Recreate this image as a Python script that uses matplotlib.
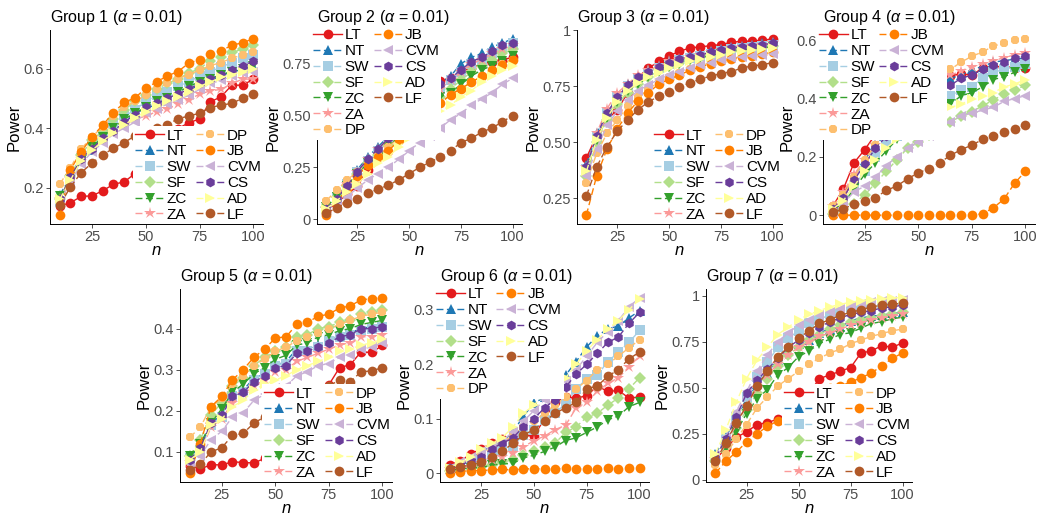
import numpy as np
import matplotlib
matplotlib.use("Agg")
import matplotlib.pyplot as plt
from matplotlib.lines import Line2D

plt.rcParams["font.family"] = ["Liberation Sans", "DejaVu Sans"]
plt.rcParams["mathtext.fontset"] = "custom"
plt.rcParams["mathtext.rm"] = "Liberation Sans"
plt.rcParams["mathtext.it"] = "Liberation Sans:italic"

n = [10, 15, 20, 25, 30, 35, 40, 45, 50, 55, 60, 65, 70, 75, 80, 85, 90, 95, 100]

tests = ["LT", "NT", "SW", "SF", "ZC", "ZA", "DP", "JB", "CVM", "CS", "AD", "LF"]
colors = ["#E31A1C", "#1F78B4", "#A6CEE3", "#B2DF8A", "#33A02C", "#FB9A99",
          "#FDBF6F", "#FF7F00", "#CAB2D6", "#6A3D9A", "#FFFF99", "#B15928"]
markers = ["o", "^", "s", "D", "v", "*", "8", "o", "<", "h", ">", "o"]

# rows follow the order of `tests`
g1 = [
    [0.138, 0.149, 0.170, 0.172, 0.189, 0.211, 0.219, 0.247, 0.27, 0.30, 0.35, 0.398, 0.418, 0.430, 0.488, 0.505, 0.544, 0.544, 0.564],
    [0.175, 0.235, 0.295, 0.325, 0.365, 0.39, 0.42, 0.45, 0.465, 0.48, 0.50, 0.51, 0.525, 0.545, 0.56, 0.575, 0.59, 0.595, 0.61],
    [0.15, 0.23, 0.30, 0.34, 0.38, 0.41, 0.44, 0.46, 0.49, 0.51, 0.52, 0.54, 0.555, 0.575, 0.59, 0.605, 0.62, 0.635, 0.645],
    [0.16, 0.24, 0.31, 0.36, 0.39, 0.43, 0.46, 0.49, 0.51, 0.53, 0.55, 0.565, 0.585, 0.60, 0.625, 0.64, 0.655, 0.665, 0.68],
    [0.17, 0.23, 0.29, 0.335, 0.37, 0.40, 0.43, 0.45, 0.47, 0.49, 0.50, 0.52, 0.54, 0.555, 0.565, 0.58, 0.59, 0.60, 0.61],
    [0.16, 0.23, 0.29, 0.33, 0.36, 0.385, 0.41, 0.43, 0.44, 0.455, 0.465, 0.48, 0.495, 0.514, 0.525, 0.53, 0.55, 0.564, 0.565],
    [0.211, 0.267, 0.33, 0.37, 0.405, 0.44, 0.47, 0.49, 0.51, 0.53, 0.55, 0.565, 0.58, 0.595, 0.61, 0.62, 0.635, 0.645, 0.655],
    [0.107, 0.26, 0.32, 0.37, 0.41, 0.452, 0.486, 0.502, 0.533, 0.555, 0.575, 0.59, 0.618, 0.63, 0.648, 0.66, 0.678, 0.687, 0.70],
    [0.15, 0.22, 0.28, 0.32, 0.35, 0.38, 0.40, 0.42, 0.45, 0.465, 0.48, 0.495, 0.51, 0.53, 0.55, 0.56, 0.575, 0.585, 0.59],
    [0.16, 0.235, 0.295, 0.33, 0.365, 0.39, 0.42, 0.445, 0.47, 0.485, 0.50, 0.515, 0.53, 0.55, 0.565, 0.58, 0.595, 0.61, 0.625],
    [0.16, 0.225, 0.29, 0.325, 0.355, 0.385, 0.41, 0.435, 0.455, 0.475, 0.49, 0.505, 0.52, 0.54, 0.555, 0.57, 0.58, 0.59, 0.60],
    [0.14, 0.202, 0.25, 0.282, 0.31, 0.332, 0.351, 0.374, 0.39, 0.40, 0.41, 0.432, 0.44, 0.45, 0.469, 0.477, 0.483, 0.50, 0.514],
]

g2 = [
    [0.04, 0.08, 0.12, 0.16, 0.24, 0.33, 0.38, 0.45, 0.53, 0.58, 0.63, 0.665, 0.68, 0.71, 0.73, 0.75, 0.76, 0.77, 0.78],
    [0.05, 0.10, 0.17, 0.24, 0.30, 0.35, 0.40, 0.47, 0.54, 0.58, 0.63, 0.66, 0.69, 0.75, 0.78, 0.80, 0.83, 0.85, 0.87],
    [0.05, 0.11, 0.17, 0.23, 0.28, 0.33, 0.38, 0.43, 0.50, 0.55, 0.59, 0.63, 0.67, 0.71, 0.75, 0.77, 0.80, 0.83, 0.85],
    [0.06, 0.11, 0.16, 0.22, 0.27, 0.31, 0.36, 0.41, 0.46, 0.51, 0.56, 0.59, 0.63, 0.67, 0.71, 0.74, 0.77, 0.80, 0.82],
    [0.06, 0.11, 0.16, 0.22, 0.27, 0.30, 0.35, 0.40, 0.45, 0.51, 0.56, 0.59, 0.61, 0.65, 0.69, 0.72, 0.74, 0.765, 0.785],
    [0.05, 0.10, 0.17, 0.23, 0.29, 0.34, 0.39, 0.44, 0.50, 0.55, 0.60, 0.63, 0.67, 0.71, 0.75, 0.77, 0.80, 0.82, 0.84],
    [0.09, 0.14, 0.19, 0.23, 0.27, 0.31, 0.35, 0.39, 0.43, 0.47, 0.52, 0.56, 0.60, 0.63, 0.66, 0.69, 0.72, 0.75, 0.77],
    [0.02, 0.08, 0.15, 0.21, 0.26, 0.30, 0.33, 0.38, 0.43, 0.48, 0.52, 0.56, 0.60, 0.63, 0.66, 0.69, 0.72, 0.745, 0.77],
    [0.04, 0.08, 0.11, 0.15, 0.19, 0.22, 0.25, 0.29, 0.33, 0.37, 0.40, 0.44, 0.48, 0.51, 0.55, 0.58, 0.61, 0.65, 0.68],
    [0.05, 0.10, 0.16, 0.23, 0.29, 0.34, 0.39, 0.45, 0.52, 0.56, 0.61, 0.65, 0.68, 0.72, 0.76, 0.78, 0.81, 0.84, 0.85],
    [0.05, 0.09, 0.13, 0.17, 0.22, 0.27, 0.30, 0.35, 0.39, 0.43, 0.47, 0.52, 0.55, 0.59, 0.62, 0.66, 0.69, 0.72, 0.74],
    [0.03, 0.055, 0.08, 0.10, 0.125, 0.145, 0.165, 0.19, 0.22, 0.25, 0.275, 0.30, 0.33, 0.37, 0.39, 0.42, 0.44, 0.47, 0.50],
]

g3 = [
    [0.43, 0.53, 0.60, 0.645, 0.72, 0.79, 0.83, 0.86, 0.885, 0.905, 0.92, 0.925, 0.93, 0.935, 0.945, 0.95, 0.95, 0.955, 0.96],
    [0.40, 0.54, 0.63, 0.70, 0.76, 0.79, 0.82, 0.84, 0.86, 0.87, 0.885, 0.895, 0.905, 0.915, 0.925, 0.93, 0.935, 0.94, 0.945],
    [0.38, 0.53, 0.63, 0.70, 0.75, 0.785, 0.81, 0.83, 0.85, 0.865, 0.875, 0.885, 0.895, 0.905, 0.915, 0.92, 0.925, 0.93, 0.935],
    [0.35, 0.50, 0.60, 0.67, 0.72, 0.76, 0.79, 0.82, 0.84, 0.855, 0.87, 0.88, 0.89, 0.90, 0.91, 0.915, 0.92, 0.925, 0.93],
    [0.37, 0.51, 0.61, 0.68, 0.73, 0.76, 0.79, 0.815, 0.835, 0.85, 0.865, 0.875, 0.885, 0.895, 0.90, 0.91, 0.915, 0.92, 0.925],
    [0.39, 0.54, 0.65, 0.72, 0.76, 0.80, 0.82, 0.84, 0.86, 0.87, 0.88, 0.89, 0.90, 0.91, 0.92, 0.925, 0.93, 0.935, 0.94],
    [0.32, 0.45, 0.54, 0.60, 0.66, 0.70, 0.735, 0.77, 0.79, 0.81, 0.825, 0.84, 0.855, 0.865, 0.875, 0.88, 0.89, 0.895, 0.90],
    [0.175, 0.35, 0.47, 0.56, 0.63, 0.685, 0.72, 0.76, 0.78, 0.80, 0.82, 0.835, 0.85, 0.86, 0.87, 0.88, 0.885, 0.895, 0.90],
    [0.35, 0.47, 0.575, 0.64, 0.69, 0.73, 0.755, 0.78, 0.80, 0.815, 0.83, 0.845, 0.855, 0.865, 0.875, 0.88, 0.885, 0.89, 0.895],
    [0.39, 0.53, 0.63, 0.70, 0.755, 0.79, 0.815, 0.835, 0.855, 0.87, 0.88, 0.89, 0.90, 0.91, 0.92, 0.925, 0.93, 0.935, 0.94],
    [0.37, 0.51, 0.61, 0.68, 0.73, 0.765, 0.79, 0.81, 0.83, 0.845, 0.86, 0.87, 0.88, 0.89, 0.90, 0.905, 0.91, 0.915, 0.92],
    [0.26, 0.39, 0.48, 0.55, 0.60, 0.645, 0.68, 0.705, 0.725, 0.745, 0.765, 0.78, 0.795, 0.805, 0.815, 0.83, 0.84, 0.845, 0.855],
]

g4 = [
    [0.03, 0.09, 0.18, 0.225, 0.277, 0.308, 0.33, 0.355, 0.378, 0.42, 0.46, 0.478, 0.485, 0.48, 0.505, 0.51, 0.51, 0.505, 0.505],
    [0.02, 0.07, 0.13, 0.19, 0.24, 0.28, 0.32, 0.36, 0.40, 0.42, 0.44, 0.47, 0.48, 0.50, 0.51, 0.525, 0.53, 0.535, 0.54],
    [0.01, 0.05, 0.10, 0.15, 0.20, 0.24, 0.27, 0.30, 0.34, 0.36, 0.38, 0.41, 0.43, 0.44, 0.47, 0.49, 0.50, 0.51, 0.52],
    [0.005, 0.02, 0.04, 0.07, 0.11, 0.15, 0.19, 0.23, 0.25, 0.275, 0.30, 0.32, 0.34, 0.355, 0.375, 0.395, 0.415, 0.43, 0.445],
    [0.02, 0.04, 0.09, 0.14, 0.18, 0.22, 0.26, 0.29, 0.315, 0.33, 0.36, 0.38, 0.41, 0.42, 0.44, 0.465, 0.475, 0.49, 0.50],
    [0.03, 0.08, 0.14, 0.19, 0.24, 0.29, 0.33, 0.37, 0.40, 0.43, 0.455, 0.48, 0.495, 0.51, 0.52, 0.53, 0.54, 0.55, 0.555],
    [0.03, 0.07, 0.13, 0.19, 0.24, 0.29, 0.34, 0.385, 0.42, 0.45, 0.475, 0.50, 0.525, 0.545, 0.56, 0.58, 0.59, 0.60, 0.605],
    [0.0, 0.0, 0.0, 0.0, 0.0, 0.0, 0.0, 0.0, 0.0, 0.0, 0.0, 0.0, 0.0, 0.0, 0.005, 0.025, 0.055, 0.11, 0.15],
    [0.01, 0.04, 0.08, 0.10, 0.13, 0.17, 0.20, 0.23, 0.25, 0.27, 0.30, 0.32, 0.34, 0.35, 0.36, 0.37, 0.39, 0.40, 0.41],
    [0.02, 0.06, 0.12, 0.175, 0.23, 0.27, 0.31, 0.345, 0.37, 0.40, 0.42, 0.445, 0.47, 0.48, 0.50, 0.515, 0.525, 0.54, 0.545],
    [0.02, 0.05, 0.10, 0.15, 0.19, 0.23, 0.26, 0.29, 0.31, 0.33, 0.35, 0.37, 0.38, 0.40, 0.41, 0.42, 0.44, 0.45, 0.465],
    [0.01, 0.02, 0.04, 0.05, 0.06, 0.085, 0.10, 0.125, 0.145, 0.16, 0.18, 0.205, 0.225, 0.24, 0.26, 0.27, 0.285, 0.295, 0.31],
]

g5 = [
    [0.066, 0.058, 0.069, 0.068, 0.076, 0.074, 0.073, 0.084, 0.10, 0.13, 0.17, 0.21, 0.24, 0.263, 0.305, 0.312, 0.343, 0.342, 0.359],
    [0.09, 0.11, 0.17, 0.19, 0.24, 0.25, 0.28, 0.29, 0.31, 0.32, 0.35, 0.35, 0.36, 0.37, 0.385, 0.39, 0.40, 0.405, 0.405],
    [0.085, 0.105, 0.165, 0.185, 0.235, 0.245, 0.275, 0.29, 0.31, 0.315, 0.345, 0.345, 0.355, 0.37, 0.38, 0.385, 0.395, 0.40, 0.405],
    [0.09, 0.13, 0.19, 0.22, 0.26, 0.28, 0.31, 0.33, 0.345, 0.355, 0.38, 0.385, 0.40, 0.405, 0.415, 0.42, 0.435, 0.44, 0.445],
    [0.09, 0.12, 0.17, 0.205, 0.245, 0.265, 0.29, 0.305, 0.325, 0.335, 0.36, 0.365, 0.38, 0.385, 0.395, 0.40, 0.41, 0.415, 0.42],
    [0.075, 0.10, 0.16, 0.18, 0.22, 0.24, 0.26, 0.275, 0.295, 0.30, 0.32, 0.33, 0.34, 0.35, 0.36, 0.365, 0.38, 0.38, 0.385],
    [0.135, 0.16, 0.21, 0.23, 0.265, 0.285, 0.31, 0.325, 0.345, 0.355, 0.37, 0.38, 0.39, 0.40, 0.41, 0.42, 0.43, 0.435, 0.44],
    [0.048, 0.12, 0.21, 0.235, 0.275, 0.30, 0.33, 0.35, 0.377, 0.38, 0.41, 0.415, 0.43, 0.435, 0.45, 0.455, 0.47, 0.473, 0.475],
    [0.07, 0.09, 0.13, 0.15, 0.185, 0.195, 0.225, 0.24, 0.255, 0.26, 0.285, 0.295, 0.31, 0.315, 0.33, 0.335, 0.35, 0.355, 0.365],
    [0.08, 0.11, 0.17, 0.19, 0.235, 0.245, 0.27, 0.285, 0.305, 0.31, 0.34, 0.345, 0.355, 0.365, 0.38, 0.385, 0.40, 0.40, 0.405],
    [0.08, 0.10, 0.165, 0.18, 0.21, 0.225, 0.25, 0.265, 0.275, 0.285, 0.30, 0.31, 0.32, 0.33, 0.345, 0.35, 0.36, 0.365, 0.375],
    [0.055, 0.07, 0.10, 0.11, 0.14, 0.145, 0.17, 0.185, 0.20, 0.21, 0.23, 0.24, 0.25, 0.26, 0.275, 0.27, 0.295, 0.297, 0.305],
]

g6 = [
    [0.015, 0.022, 0.035, 0.045, 0.055, 0.062, 0.058, 0.07, 0.068, 0.10, 0.13, 0.14, 0.138, 0.142, 0.16, 0.15, 0.152, 0.138, 0.14],
    [0.01, 0.015, 0.025, 0.04, 0.05, 0.058, 0.075, 0.105, 0.128, 0.14, 0.155, 0.18, 0.205, 0.232, 0.252, 0.265, 0.27, 0.285, 0.298],
    [0.008, 0.01, 0.015, 0.025, 0.032, 0.04, 0.05, 0.07, 0.08, 0.098, 0.11, 0.128, 0.155, 0.173, 0.18, 0.205, 0.222, 0.24, 0.262],
    [0.005, 0.008, 0.01, 0.012, 0.016, 0.02, 0.025, 0.033, 0.04, 0.048, 0.055, 0.075, 0.085, 0.103, 0.11, 0.125, 0.138, 0.155, 0.175],
    [0.005, 0.008, 0.01, 0.01, 0.015, 0.017, 0.018, 0.028, 0.033, 0.04, 0.048, 0.06, 0.065, 0.075, 0.085, 0.098, 0.105, 0.122, 0.13],
    [0.008, 0.01, 0.012, 0.018, 0.025, 0.03, 0.038, 0.048, 0.06, 0.068, 0.08, 0.088, 0.12, 0.13, 0.15, 0.165, 0.175, 0.195, 0.215],
    [0.008, 0.015, 0.025, 0.035, 0.045, 0.055, 0.07, 0.085, 0.095, 0.11, 0.125, 0.14, 0.155, 0.17, 0.19, 0.20, 0.215, 0.23, 0.245],
    [0.0, 0.003, 0.005, 0.005, 0.006, 0.007, 0.006, 0.008, 0.008, 0.008, 0.008, 0.009, 0.008, 0.008, 0.008, 0.01, 0.008, 0.009, 0.01],
    [0.01, 0.02, 0.03, 0.04, 0.05, 0.06, 0.075, 0.095, 0.115, 0.135, 0.15, 0.17, 0.19, 0.215, 0.24, 0.26, 0.28, 0.305, 0.322],
    [0.01, 0.015, 0.022, 0.03, 0.045, 0.055, 0.065, 0.085, 0.10, 0.12, 0.135, 0.158, 0.182, 0.20, 0.22, 0.24, 0.25, 0.275, 0.295],
    [0.01, 0.02, 0.03, 0.045, 0.055, 0.065, 0.085, 0.11, 0.125, 0.145, 0.16, 0.175, 0.20, 0.225, 0.245, 0.265, 0.28, 0.30, 0.32],
    [0.008, 0.012, 0.015, 0.02, 0.03, 0.04, 0.055, 0.07, 0.08, 0.095, 0.11, 0.12, 0.13, 0.155, 0.16, 0.178, 0.19, 0.21, 0.222],
]

g7 = [
    [0.11, 0.17, 0.23, 0.26, 0.30, 0.31, 0.33, 0.35, 0.40, 0.47, 0.55, 0.57, 0.59, 0.61, 0.69, 0.70, 0.73, 0.72, 0.745],
    [0.14, 0.23, 0.34, 0.43, 0.52, 0.58, 0.65, 0.70, 0.74, 0.76, 0.80, 0.82, 0.83, 0.865, 0.88, 0.89, 0.895, 0.905, 0.91],
    [0.12, 0.22, 0.34, 0.45, 0.56, 0.64, 0.72, 0.77, 0.81, 0.85, 0.87, 0.90, 0.915, 0.93, 0.94, 0.955, 0.96, 0.965, 0.97],
    [0.10, 0.18, 0.28, 0.38, 0.47, 0.55, 0.62, 0.68, 0.72, 0.76, 0.79, 0.82, 0.84, 0.86, 0.87, 0.88, 0.89, 0.90, 0.91],
    [0.10, 0.17, 0.26, 0.36, 0.44, 0.49, 0.57, 0.61, 0.67, 0.70, 0.74, 0.765, 0.79, 0.80, 0.825, 0.85, 0.86, 0.875, 0.885],
    [0.11, 0.19, 0.30, 0.40, 0.50, 0.57, 0.63, 0.68, 0.72, 0.75, 0.78, 0.80, 0.82, 0.84, 0.855, 0.87, 0.88, 0.89, 0.90],
    [0.08, 0.14, 0.22, 0.30, 0.39, 0.45, 0.51, 0.55, 0.59, 0.63, 0.66, 0.69, 0.71, 0.74, 0.76, 0.78, 0.795, 0.81, 0.82],
    [0.035, 0.10, 0.15, 0.205, 0.25, 0.29, 0.32, 0.35, 0.38, 0.42, 0.47, 0.50, 0.51, 0.53, 0.555, 0.58, 0.62, 0.66, 0.69],
    [0.13, 0.23, 0.37, 0.48, 0.59, 0.68, 0.75, 0.80, 0.84, 0.87, 0.895, 0.915, 0.93, 0.945, 0.955, 0.965, 0.97, 0.975, 0.98],
    [0.12, 0.22, 0.34, 0.47, 0.54, 0.60, 0.66, 0.72, 0.76, 0.80, 0.83, 0.86, 0.88, 0.90, 0.91, 0.92, 0.935, 0.94, 0.95],
    [0.14, 0.27, 0.42, 0.55, 0.65, 0.72, 0.79, 0.83, 0.87, 0.90, 0.92, 0.94, 0.955, 0.965, 0.975, 0.98, 0.985, 0.99, 0.99],
    [0.10, 0.20, 0.31, 0.40, 0.51, 0.59, 0.67, 0.72, 0.77, 0.81, 0.85, 0.87, 0.895, 0.91, 0.925, 0.94, 0.95, 0.955, 0.96],
]

groups = [g1, g2, g3, g4, g5, g6, g7]
yticks = [
    ([0.2, 0.4, 0.6], ["0.2", "0.4", "0.6"]),
    ([0, 0.25, 0.5, 0.75], ["0", "0.25", "0.50", "0.75"]),
    ([0.25, 0.5, 0.75, 1], ["0.25", "0.50", "0.75", "1"]),
    ([0, 0.2, 0.4, 0.6], ["0", "0.2", "0.4", "0.6"]),
    ([0.1, 0.2, 0.3, 0.4], ["0.1", "0.2", "0.3", "0.4"]),
    ([0, 0.1, 0.2, 0.3], ["0", "0.1", "0.2", "0.3"]),
    ([0, 0.25, 0.5, 0.75, 1], ["0", "0.25", "0.50", "0.75", "1"]),
]
legend_top = [False, True, False, True, False, True, False]

# panel boxes in pixels: left, top, right, bottom
W, H = 1041, 516
boxes = [
    (50, 30, 263, 224), (317, 30, 522, 224), (577, 30, 782, 224), (823, 30, 1035, 224),
    (180, 289, 392, 482), (440, 289, 649, 482), (706, 289, 912, 482),
]

fig = plt.figure(figsize=(W / 100, H / 100), dpi=100)

for k, (data, box) in enumerate(zip(groups, boxes)):
    l, t, r, b = box
    ax = fig.add_axes([l / W, 1 - b / H, (r - l) / W, (b - t) / H])
    for name, col, mk, y in zip(tests, colors, markers, data):
        ls = "-" if name == "LT" else (0, (5, 2.5))
        ms = 9 if mk == "*" else (6 if mk == "D" else 7)
        ax.plot(n, y, color=col, marker=mk, markersize=ms, linewidth=1.0,
                linestyle=ls, markeredgewidth=0, label=name)
    ax.set_xlim(5.5, 104.5)
    ax.margins(y=0.05)
    ax.set_xticks([25, 50, 75, 100])
    ax.set_yticks(yticks[k][0])
    ax.set_yticklabels(yticks[k][1])
    for s in ["top", "right"]:
        ax.spines[s].set_visible(False)
    for s in ["left", "bottom"]:
        ax.spines[s].set_linewidth(0.7)
    ax.tick_params(length=3, width=0.6, color="#333333", labelcolor="#4D4D4D",
                   labelsize=10.5, pad=1.5)
    ax.set_title(r"Group %d ($\alpha$ = 0.01)" % (k + 1), loc="left",
                 fontsize=11.5, pad=6)
    ax.set_xlabel("n", fontstyle="italic", fontsize=12, labelpad=-1)
    ax.set_ylabel("Power", fontsize=12, labelpad=1)

    handles, labels = ax.get_legend_handles_labels()
    opts = dict(ncol=2, fontsize=11, handlelength=1.9, handletextpad=0.15,
                labelspacing=0.12, columnspacing=0.3, borderpad=0.15,
                borderaxespad=0, facecolor="white", edgecolor="none",
                framealpha=1, fancybox=False)
    if legend_top[k]:
        handles.append(Line2D([], [], linestyle="none"))
        labels.append("")
        leg = ax.legend(handles, labels, loc="upper left",
                        bbox_to_anchor=(-0.03, 1.02), **opts)
    else:
        leg = ax.legend(handles, labels, loc="lower right",
                        bbox_to_anchor=(1.0, 0.0), **opts)
    leg.set_zorder(10)

fig.savefig("out.png", dpi=100)
